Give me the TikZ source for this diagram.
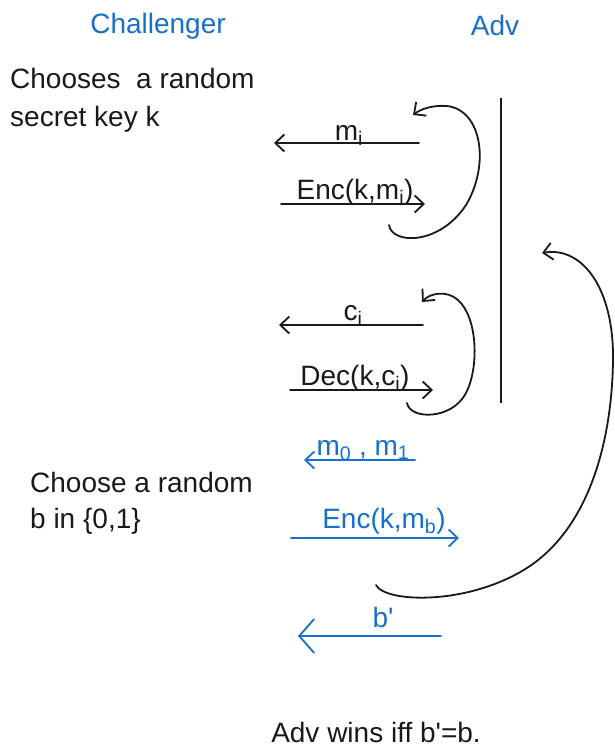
\documentclass[tikz,border=0pt]{standalone}
\usepackage{fontspec}
\setmainfont{Liberation Sans}
\usetikzlibrary{arrows.meta}
\definecolor{pen}{RGB}{25,25,25}
\definecolor{bluepen}{RGB}{24,112,200}
\tikzset{
  txt/.style={inner sep=0pt, font=\fontsize{28}{34}\selectfont, text=pen},
  head/.style={inner sep=0pt, font=\fontsize{28}{32}\selectfont, text=bluepen, anchor=base},
  lbl/.style={inner sep=0pt, font=\fontsize{28}{32}\selectfont, text=pen, anchor=base},
  blbl/.style={lbl, text=bluepen},
  arr/.style={draw=pen, line width=1.8pt, line cap=round, -{Straight Barb[length=9pt,width=17pt,line width=1.8pt]}},
  barr/.style={arr, draw=bluepen},
  bigarr/.style={draw=bluepen, line width=1.8pt, line cap=round, -{Straight Barb[length=15pt,width=34pt,line width=1.8pt]}},
  vline/.style={draw=pen, line width=1.8pt}
}
\begin{document}
\begin{tikzpicture}[x=1pt,y=-1pt]
\useasboundingbox (0,0) rectangle (615,750);

% headings
\node[head] (chal) at (158,33) {Challenger};
\node[head] (adv) at (495,35) {Adv};

% challenger texts
\node[txt, anchor=base west] (t1) at (10,88) {Chooses\ \ a random};
\node[txt, anchor=base west] (t2) at (10,126) {secret key k};
\node[txt, anchor=base west] (t3) at (30,492) {Choose a random};
\node[txt, anchor=base west] (t4) at (30,528) {b in \{0,1\}};
\node[txt, anchor=base] (t5) at (376,742) {Adv wins iff b\textquotesingle=b.};

% adversary line
\coordinate (vtop) at (501,98);
\coordinate (vbot) at (501,403);
\draw[vline] (vtop) -- (vbot);

% m_i
\coordinate (miS) at (419,143);
\coordinate (miE) at (274,143);
\draw[arr] (miS) -- (miE);
\node[lbl] (mi) at (349,140) {m\textsubscript{i}};

% Enc(k,m_i)
\coordinate (encS) at (281,204);
\coordinate (encE) at (425,204);
\draw[arr] (encS) -- (encE);
\node[lbl] (enc) at (355,199) {Enc(k,m\textsubscript{i})};

% loop 1
\coordinate (l1s) at (389,225);
\coordinate (l1e) at (413,115);
\draw[arr] (l1s) .. controls (392,245) and (440,245) .. (466,205)
  .. controls (490,165) and (482,110) .. (447,106)
  .. controls (432,105) and (421,109) .. (l1e);

% c_i
\coordinate (ciS) at (423,325);
\coordinate (ciE) at (279,325);
\draw[arr] (ciS) -- (ciE);
\node[lbl] (ci) at (353,320) {c\textsubscript{i}};

% Dec(k,c_i)
\coordinate (decS) at (290,390);
\coordinate (decE) at (433,390);
\draw[arr] (decS) -- (decE);
\node[lbl] (dec) at (355,385) {Dec(k,c\textsubscript{i})};

% loop 2
\coordinate (l2s) at (407,403);
\coordinate (l2e) at (422,302);
\draw[arr] (l2s) .. controls (410,420) and (452,420) .. (466,393)
  .. controls (479,368) and (478,318) .. (458,300)
  .. controls (447,290) and (430,293) .. (l2e);

% m0, m1 (blue)
\coordinate (m01S) at (415,460);
\coordinate (m01E) at (304,460);
\draw[barr] (m01S) -- (m01E);
\node[blbl] (m01) at (363,455) {m\textsubscript{0} , m\textsubscript{1}};

% Enc(k,m_b) (blue)
\coordinate (encbS) at (291,538);
\coordinate (encbE) at (459,538);
\draw[barr] (encbS) -- (encbE);
\node[blbl] (encb) at (384,528) {Enc(k,m\textsubscript{b})};

% big loop
\coordinate (l3s) at (376,585);
\coordinate (l3e) at (542,253);
\draw[arr] (l3s) .. controls (385,603) and (470,606) .. (530,566)
  .. controls (590,525) and (612,440) .. (613,360)
  .. controls (614,288) and (582,246) .. (l3e);

% b' (blue)
\coordinate (bpS) at (441,636);
\coordinate (bpE) at (298,636);
\draw[bigarr] (bpS) -- (bpE);
\node[blbl] (bp) at (383,627) {b\textquotesingle};

\end{tikzpicture}
\end{document}
